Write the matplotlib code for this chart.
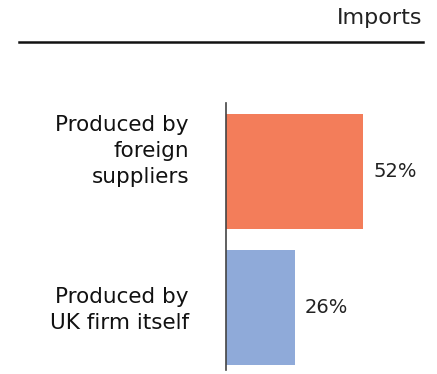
import matplotlib
matplotlib.use('Agg')
import matplotlib.pyplot as plt
from matplotlib.lines import Line2D

plt.rcParams['font.family'] = 'DejaVu Sans'

# Share of imports by who produces them
categories = ['Produced by\nforeign\nsuppliers', 'Produced by\nUK firm itself']
shares = [52, 26]
bar_colors = ['#F37D5A', '#8FAAD9']
header = 'Imports'

ypos = [1, 0]

fig = plt.figure(figsize=(4.37, 3.74), dpi=100)
ax = fig.add_axes([0.517, 0.011, 0.483, 0.714])

ax.barh(ypos, shares, height=0.846, color=bar_colors, edgecolor='none')

for y, v in zip(ypos, shares):
    ax.text(v + 4, y, f'{v}%', ha='left', va='center', fontsize=14, color='#222222')

# category labels to the left of the axis
label_y = [1.15, -0.02]
for y, lab in zip(label_y, categories):
    ax.text(-14, y, lab, ha='right', va='center', fontsize=15.5,
            color='#111111', linespacing=1.38)

ax.set_xlim(0, 80)
ax.set_ylim(-0.46, 1.504)
for s in ['top', 'right', 'bottom']:
    ax.spines[s].set_visible(False)
ax.spines['left'].set_color('#444444')
ax.spines['left'].set_linewidth(1.2)
ax.set_xticks([])
ax.set_yticks([])

fig.text(422 / 437, 1 - 18 / 374, header, ha='right', va='center',
         fontsize=16, color='#222222')
fig.add_artist(Line2D([19 / 437, 423 / 437], [1 - 42 / 374, 1 - 42 / 374],
                      color='#111111', linewidth=1.8, transform=fig.transFigure))

fig.savefig('out.png', dpi=100)
